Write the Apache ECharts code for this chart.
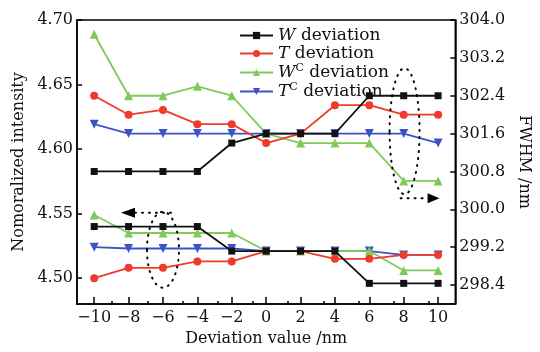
<!DOCTYPE html>
<html>
<head>
<meta charset="utf-8">
<script src="https://cdn.jsdelivr.net/npm/echarts@6/dist/echarts.min.js"></script>
<style>
  html, body { margin: 0; padding: 0; background: #fff; }
  #chart { width: 540px; height: 352px; }
</style>
</head>
<body>
<div id="chart"></div>
<script>
// deviation values (nm)
var deviation = [-10, -8, -6, -4, -2, 0, 2, 4, 6, 8, 10];
var xLabels = [-10, -8, -6, -4, -2, 0, 2, 4, 6, 8, 10];
var xMinorTicks = [-9, -7, -5, -3, -1, 1, 3, 5, 7, 9];
var leftTicks = [4.50, 4.55, 4.60, 4.65, 4.70];
var rightTicks = [298.4, 299.2, 300.0, 300.8, 301.6, 302.4, 303.2, 304.0];

// FWHM (right axis, upper group)
var fwhmW  = [300.8, 300.8, 300.8, 300.8, 301.4, 301.6, 301.6, 301.6, 302.4, 302.4, 302.4];
var fwhmT  = [302.4, 302.0, 302.1, 301.8, 301.8, 301.4, 301.6, 302.2, 302.2, 302.0, 302.0];
var fwhmWc = [303.7, 302.4, 302.4, 302.6, 302.4, 301.6, 301.4, 301.4, 301.4, 300.6, 300.6];
var fwhmTc = [301.8, 301.6, 301.6, 301.6, 301.6, 301.6, 301.6, 301.6, 301.6, 301.6, 301.4];

// normalized intensity (left axis, lower group)
var intW  = [4.540, 4.540, 4.540, 4.540, 4.521, 4.521, 4.521, 4.521, 4.496, 4.496, 4.496];
var intT  = [4.500, 4.508, 4.508, 4.513, 4.513, 4.521, 4.521, 4.515, 4.515, 4.518, 4.518];
var intWc = [4.549, 4.535, 4.535, 4.535, 4.535, 4.521, 4.521, 4.521, 4.521, 4.506, 4.506];
var intTc = [4.524, 4.523, 4.523, 4.523, 4.523, 4.521, 4.521, 4.521, 4.521, 4.518, 4.518];

var names = ['W deviation', 'T deviation', 'Wc deviation', 'Tc deviation'];
var colors = ['#111111', '#ee3b2b', '#80c95c', '#3b55c6'];
var symbols = ['rect', 'circle', 'triangle', 'path://M0,0 L10,0 L5,9 Z'];
var symSizes = [7, 8, 9, 9];

var FONT = 'DejaVu Serif';

function pairs(ys) {
  return deviation.map(function (x, i) { return [x, ys[i]]; });
}

function makeSeries(idx, data, yAxisIndex) {
  return {
    name: names[idx],
    type: 'line',
    yAxisIndex: yAxisIndex,
    data: pairs(data),
    symbol: symbols[idx],
    symbolSize: symSizes[idx],
    lineStyle: { color: colors[idx], width: 1.8 },
    itemStyle: { color: colors[idx] },
    z: 10 - idx,
    animation: false
  };
}

var legendFmt = {
  'W deviation': '{i|W} deviation',
  'T deviation': '{i|T} deviation',
  'Wc deviation': '{i|W}{s|C} deviation',
  'Tc deviation': '{i|T}{s|C} deviation'
};

var gridBox = { left: 77, right: 76, top: 20, bottom: 47 };
var tickLine = { color: '#000', width: 1.5 };

var myChart = echarts.init(document.getElementById('chart'));
myChart.setOption({
  animation: false,
  grid: [
    Object.assign({ show: true, borderColor: '#000', borderWidth: 1.5 }, gridBox),
    Object.assign({ show: false }, gridBox)   // only carries the short odd ticks
  ],
  legend: {
    data: names,
    orient: 'vertical',
    left: 234, top: 22,
    itemGap: 1,
    itemWidth: 33, itemHeight: 9,
    textStyle: {
      fontFamily: FONT, fontSize: 17, color: '#111',
      rich: {
        i: { fontFamily: FONT, fontSize: 17, fontStyle: 'italic', color: '#111' },
        s: { fontFamily: FONT, fontSize: 11, color: '#111', padding: [0, 0, 8, 0] }
      }
    },
    formatter: function (n) { return legendFmt[n]; }
  },
  xAxis: [{
    type: 'value',
    gridIndex: 0,
    min: -11, max: 11,
    name: 'Deviation value /nm',
    nameLocation: 'middle',
    nameGap: 27,
    nameTextStyle: { fontFamily: FONT, fontSize: 16, color: '#111' },
    axisLine: { onZero: false, lineStyle: tickLine },
    axisTick: { inside: true, length: 7, customValues: xLabels, lineStyle: tickLine },
    axisLabel: {
      customValues: xLabels,
      fontFamily: FONT, fontSize: 16, color: '#111', margin: 6,
      formatter: function (v) { return v < 0 ? '\u2212' + Math.abs(v) : String(v); }
    },
    splitLine: { show: false }
  }, {
    type: 'value',
    gridIndex: 1,
    min: -11, max: 11,
    position: 'bottom',
    axisLine: { show: false, onZero: false },
    axisTick: { show: true, inside: true, length: 4, customValues: xMinorTicks, lineStyle: tickLine },
    axisLabel: { show: false },
    splitLine: { show: false }
  }],
  yAxis: [{
    type: 'value',
    gridIndex: 0,
    min: 4.48, max: 4.70,
    name: 'Nomoralized intensity',
    nameLocation: 'middle',
    nameGap: 50,
    nameTextStyle: { fontFamily: FONT, fontSize: 16, color: '#111' },
    axisLine: { show: true, onZero: false, lineStyle: tickLine },
    axisTick: { inside: true, length: 5, customValues: leftTicks, lineStyle: tickLine },
    axisLabel: {
      customValues: leftTicks,
      fontFamily: FONT, fontSize: 16, color: '#111', margin: 4,
      formatter: function (v) { return v.toFixed(2); }
    },
    splitLine: { show: false }
  }, {
    type: 'value',
    gridIndex: 0,
    min: 298, max: 304,
    position: 'right',
    name: 'FWHM /nm',
    nameLocation: 'middle',
    nameGap: 56,
    nameRotate: -90,
    nameTextStyle: { fontFamily: FONT, fontSize: 16, color: '#111' },
    axisLine: { show: true, onZero: false, lineStyle: tickLine },
    axisTick: { inside: true, length: 5, customValues: rightTicks, lineStyle: tickLine },
    axisLabel: {
      customValues: rightTicks,
      fontFamily: FONT, fontSize: 16, color: '#111', margin: 4,
      formatter: function (v) { return v.toFixed(1); }
    },
    splitLine: { show: false }
  }, {
    type: 'value',
    gridIndex: 1,
    show: false,
    min: 0, max: 1
  }],
  series: [
    makeSeries(0, fwhmW, 1),
    makeSeries(1, fwhmT, 1),
    makeSeries(2, fwhmWc, 1),
    makeSeries(3, fwhmTc, 1),
    makeSeries(0, intW, 0),
    makeSeries(1, intT, 0),
    makeSeries(2, intWc, 0),
    makeSeries(3, intTc, 0)
  ]
});

// dotted ellipses + arrows marking which axis each group belongs to
var dotStyle = { fill: 'none', stroke: '#000', lineWidth: 2, lineDash: [1, 6], lineCap: 'round' };
var p1 = myChart.convertToPixel({ xAxisIndex: 0, yAxisIndex: 0 }, [-6, 4.522]);
var p2 = myChart.convertToPixel({ xAxisIndex: 0, yAxisIndex: 1 }, [8.05, 301.65]);
myChart.setOption({
  graphic: [
    { type: 'ellipse', shape: { cx: p1[0], cy: p1[1], rx: 16, ry: 38 }, style: dotStyle, z: 100 },
    { type: 'polyline', shape: { points: [[p1[0] + 8, p1[1] - 37], [p1[0] - 28, p1[1] - 37]] }, style: dotStyle, z: 100 },
    { type: 'polygon', shape: { points: [[p1[0] - 42, p1[1] - 37], [p1[0] - 28, p1[1] - 42], [p1[0] - 28, p1[1] - 32]] }, style: { fill: '#000' }, z: 100 },
    { type: 'ellipse', shape: { cx: p2[0], cy: p2[1], rx: 15, ry: 63 }, style: dotStyle, z: 100 },
    { type: 'polyline', shape: { points: [[p2[0] - 4, p2[1] + 67], [p2[0] + 24, p2[1] + 67]] }, style: dotStyle, z: 100 },
    { type: 'polygon', shape: { points: [[p2[0] + 35, p2[1] + 67], [p2[0] + 23, p2[1] + 62], [p2[0] + 23, p2[1] + 72]] }, style: { fill: '#000' }, z: 100 }
  ]
});
</script>
</body>
</html>
